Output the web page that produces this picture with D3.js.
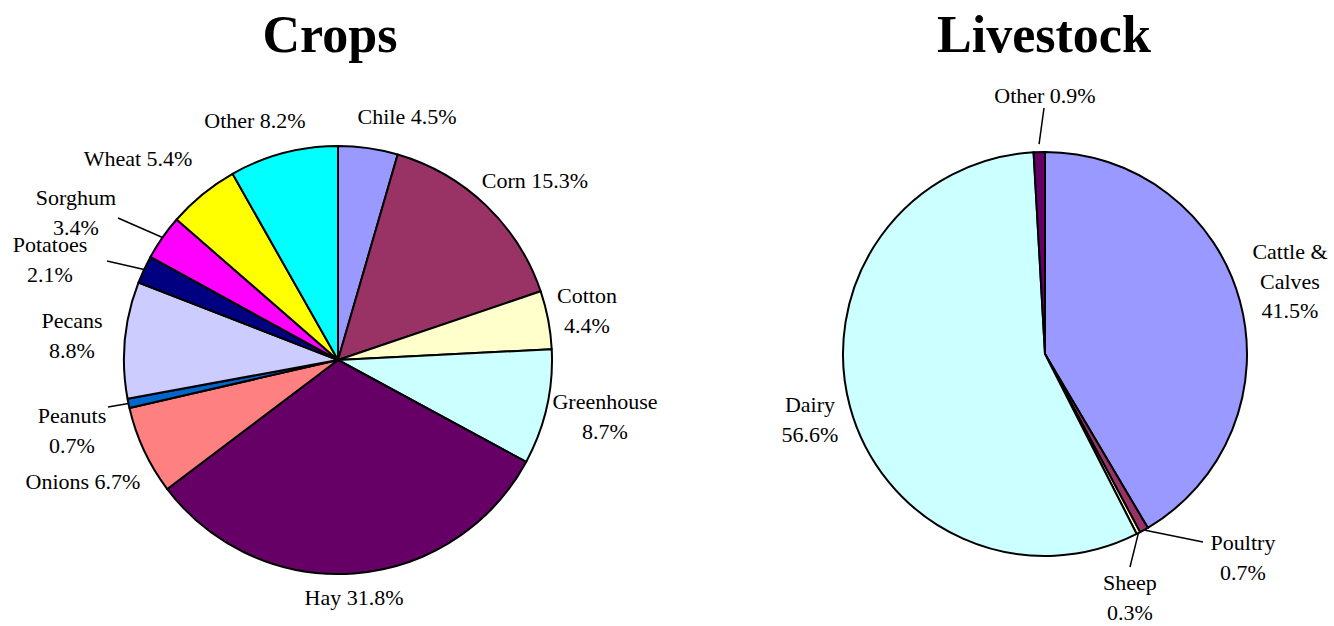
<!DOCTYPE html>
<html><head><meta charset="utf-8">
<script src="https://cdn.jsdelivr.net/npm/d3@7"></script>
<style>html,body{margin:0;padding:0;background:#fff;}svg{display:block;}
svg text{font-family:"Liberation Serif","Times New Roman",Times,serif;}</style>
</head><body>
<svg id="c" width="1334" height="626"></svg>
<script>
// ---- data ----
const cropNames = ["Chile","Corn","Cotton","Greenhouse","Hay","Onions","Peanuts","Pecans","Potatoes","Sorghum","Wheat","Other"];
const cropValues = [4.5,15.3,4.4,8.7,31.8,6.7,0.7,8.8,2.1,3.4,5.4,8.2];
const cropColors = ["#9999FF","#993366","#FFFFCC","#CCFFFF","#660066","#FF8080","#0066CC","#CCCCFF","#000080","#FF00FF","#FFFF00","#00FFFF"];
const livestockNames = ["Cattle & Calves","Poultry","Sheep","Dairy","Other"];
const livestockValues = [41.5,0.7,0.3,56.6,0.9];
const livestockColors = ["#9999FF","#993366","#FFFFCC","#CCFFFF","#660066"];

// ---- layout (label anchors: text centre x, first baseline y; lines; optional leader end) ----
const cropLabelLayout = [
  {x:407,y:124,lines:["Chile 4.5%"]},
  {x:535,y:188,lines:["Corn 15.3%"]},
  {x:587,y:303,lines:["Cotton","4.4%"]},
  {x:605,y:409,lines:["Greenhouse","8.7%"]},
  {x:354,y:605,lines:["Hay 31.8%"]},
  {x:83,y:489,lines:["Onions 6.7%"]},
  {x:72,y:423,lines:["Peanuts","0.7%"],leader:[108,407]},
  {x:72,y:328,lines:["Pecans","8.8%"]},
  {x:50,y:252,lines:["Potatoes","2.1%"],leader:[107,261]},
  {x:76,y:205,lines:["Sorghum","3.4%"],leader:[118,218]},
  {x:138,y:166,lines:["Wheat 5.4%"]},
  {x:255,y:128,lines:["Other 8.2%"]}
];
const livestockLabelLayout = [
  {x:1290,y:259,lines:["Cattle &","Calves","41.5%"]},
  {x:1243,y:550,lines:["Poultry","0.7%"],leader:[1203,542]},
  {x:1130,y:590,lines:["Sheep","0.3%"],leader:[1130,567]},
  {x:810,y:412,lines:["Dairy","56.6%"]},
  {x:1045,y:103,lines:["Other 0.9%"],leader:[1044,108],leaderR:8}
];

const svg = d3.select("#c");

function drawPie(title, titleX, cx, cy, r, names, values, colors, layout){
  const g = svg.append("g");
  g.append("text").attr("x",titleX).attr("y",52).attr("text-anchor","middle")
    .attr("font-weight","bold").attr("font-size",52).text(title);
  const data = names.map((n,i)=>({name:n,value:values[i],color:colors[i],lay:layout[i]}));
  const pie = d3.pie().sort(null).value(d=>d.value).startAngle(0).endAngle(2*Math.PI);
  const arcs = pie(data);
  const arc = d3.arc().innerRadius(0).outerRadius(r);
  const pg = g.append("g").attr("transform",`translate(${cx},${cy})`);
  pg.selectAll("path").data(arcs).join("path")
    .attr("d",arc).attr("fill",d=>d.data.color)
    .attr("stroke","#000").attr("stroke-width",2).attr("stroke-linejoin","round");
  // leader lines
  arcs.forEach(a=>{
    const L=a.data.lay;
    if(!L.leader) return;
    const m=(a.startAngle+a.endAngle)/2;
    const rr=r+(L.leaderR||0);
    g.append("line")
      .attr("x1",L.leader[0]).attr("y1",L.leader[1])
      .attr("x2",cx+rr*Math.sin(m)).attr("y2",cy-rr*Math.cos(m))
      .attr("stroke","#000").attr("stroke-width",1.5);
  });
  // labels
  arcs.forEach(a=>{
    const L=a.data.lay;
    const t=g.append("text").attr("text-anchor","middle").attr("font-size",22).attr("fill","#000");
    L.lines.forEach((ln,i)=>{
      t.append("tspan").attr("x",L.x).attr("y",L.y+i*29.5).text(ln);
    });
  });
}

drawPie("Crops",330,338,360,214,cropNames,cropValues,cropColors,cropLabelLayout);
drawPie("Livestock",1044,1045,354,202,livestockNames,livestockValues,livestockColors,livestockLabelLayout);
</script>
</body></html>
